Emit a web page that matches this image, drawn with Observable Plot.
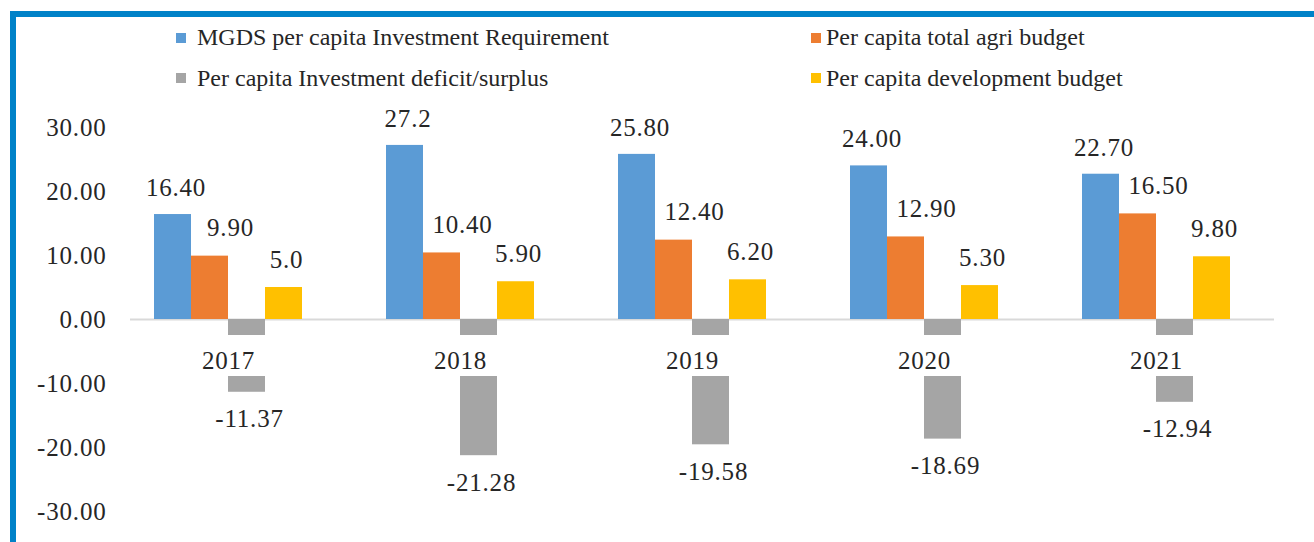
<!DOCTYPE html>
<html>
<head>
<meta charset="utf-8">
<script src="https://cdn.jsdelivr.net/npm/d3@7"></script>
<script src="https://cdn.jsdelivr.net/npm/@observablehq/plot@0.6"></script>
<style>
  body { margin: 0; background: #fff; }
  #wrap { position: relative; width: 1314px; height: 542px; overflow: hidden; background: #fff; font-family: "Liberation Serif", "Times New Roman", serif; color: #262626; }
  #chart { position: absolute; left: 0; top: 0; }
  #frame { position: absolute; left: 10px; top: 11px; right: -10px; bottom: -10px; border-left: 6px solid #0082c8; border-top: 6px solid #0082c8; pointer-events: none; }
  .sw { position: absolute; width: 10px; height: 10px; }
  .tx { position: absolute; white-space: nowrap; font-size: 24px; line-height: 24px; }
</style>
</head>
<body>
<div id="wrap">
  <div id="chart"></div>
  <div id="legend"></div>
  <div id="frame"></div>
</div>
<script>
// ---- data ----
const years = ["2017", "2018", "2019", "2020", "2021"];
const seriesNames = [
  "MGDS per capita Investment Requirement",
  "Per capita total agri budget",
  "Per capita Investment deficit/surplus",
  "Per capita development budget"
];
const seriesColors = ["#5b9bd5", "#ed7d31", "#a5a5a5", "#ffc000"];
const requirement = [16.40, 27.2, 25.80, 24.00, 22.70];
const agriBudget = [9.90, 10.40, 12.40, 12.90, 16.50];
const deficit = [-11.37, -21.28, -19.58, -18.69, -12.94];
const devBudget = [5.0, 5.90, 6.20, 5.30, 9.80];
const requirementLabels = ["16.40", "27.2", "25.80", "24.00", "22.70"];
const agriBudgetLabels = ["9.90", "10.40", "12.40", "12.90", "16.50"];
const deficitLabels = ["-11.37", "-21.28", "-19.58", "-18.69", "-12.94"];
const devBudgetLabels = ["5.0", "5.90", "6.20", "5.30", "9.80"];
const yTicks = [-30, -20, -10, 0, 10, 20, 30];

const seriesValues = [requirement, agriBudget, deficit, devBudget];
const seriesLabels = [requirementLabels, agriBudgetLabels, deficitLabels, devBudgetLabels];

const rows = years.flatMap((year, j) => seriesNames.map((name, i) => ({
  year, series: name, idx: i, value: seriesValues[i][j], label: seriesLabels[i][j]
})));

// ---- layout / style ----
const barW = 37;
const labelNudgeX = [3, 20.5, 2.5, 2.5];
const font = "Liberation Serif";
const ink = "#262626";

const marks = [Plot.ruleY([0], {stroke: "#d9d9d9", strokeWidth: 2})];

seriesNames.forEach((name, i) => {
  const d = rows.filter(r => r.idx === i);
  marks.push(Plot.barY(d, {
    x: "year", y: "value", fill: seriesColors[i],
    insetLeft: i * barW, insetRight: (3 - i) * barW
  }));
});

// white band behind category labels (cuts the deficit bars like the original)
marks.push(Plot.barY(years, {
  x: d => d, y1: 0, y2: 0, fill: "#fff",
  insetTop: 16, insetBottom: -57, insetLeft: 2 * barW - 2, insetRight: barW - 2
}));

seriesNames.forEach((name, i) => {
  const d = rows.filter(r => r.idx === i);
  const neg = i === 2;
  marks.push(Plot.text(d, {
    x: "year", y: "value", text: "label",
    dx: (i - 1.5) * barW + labelNudgeX[i],
    dy: neg ? 35 : (i === 0 ? -18.5 : -20),
    lineAnchor: "bottom", textAnchor: "middle",
    fontSize: 25, fontFamily: font, fill: ink
  }));
});

marks.push(Plot.text(years, {
  x: d => d, y: 0, text: d => d, dy: 49, lineAnchor: "bottom", textAnchor: "middle",
  fontSize: 25, fontFamily: font, fill: ink
}));

const chart = Plot.plot({
  width: 1314,
  height: 542,
  marginLeft: 130,
  marginRight: 40,
  marginTop: 101.4,
  marginBottom: 5.4,
  style: {fontFamily: font, fontSize: "25px", color: ink, background: "transparent", letterSpacing: "0.8px"},
  x: {domain: years, paddingInner: 0.3634, paddingOuter: 0.142, align: 0.348, axis: null},
  y: {domain: [-34, 34], ticks: yTicks, tickSize: 0, tickPadding: 24, tickFormat: d => d.toFixed(2), label: null},
  marks
});
document.getElementById("chart").appendChild(chart);

// ---- legend ----
const legendPos = [
  {sx: 176, sy: 33, tx: 197, ty: 25},
  {sx: 811, sy: 33, tx: 826, ty: 25},
  {sx: 176, sy: 73, tx: 197, ty: 66},
  {sx: 811, sy: 73, tx: 826, ty: 66}
];
const legend = document.getElementById("legend");
seriesNames.forEach((name, i) => {
  const p = legendPos[i];
  const sw = document.createElement("div");
  sw.className = "sw";
  sw.style.left = p.sx + "px"; sw.style.top = p.sy + "px"; sw.style.background = seriesColors[i];
  legend.appendChild(sw);
  const tx = document.createElement("div");
  tx.className = "tx";
  tx.style.left = p.tx + "px"; tx.style.top = p.ty + "px";
  tx.textContent = name;
  legend.appendChild(tx);
});
</script>
</body>
</html>
